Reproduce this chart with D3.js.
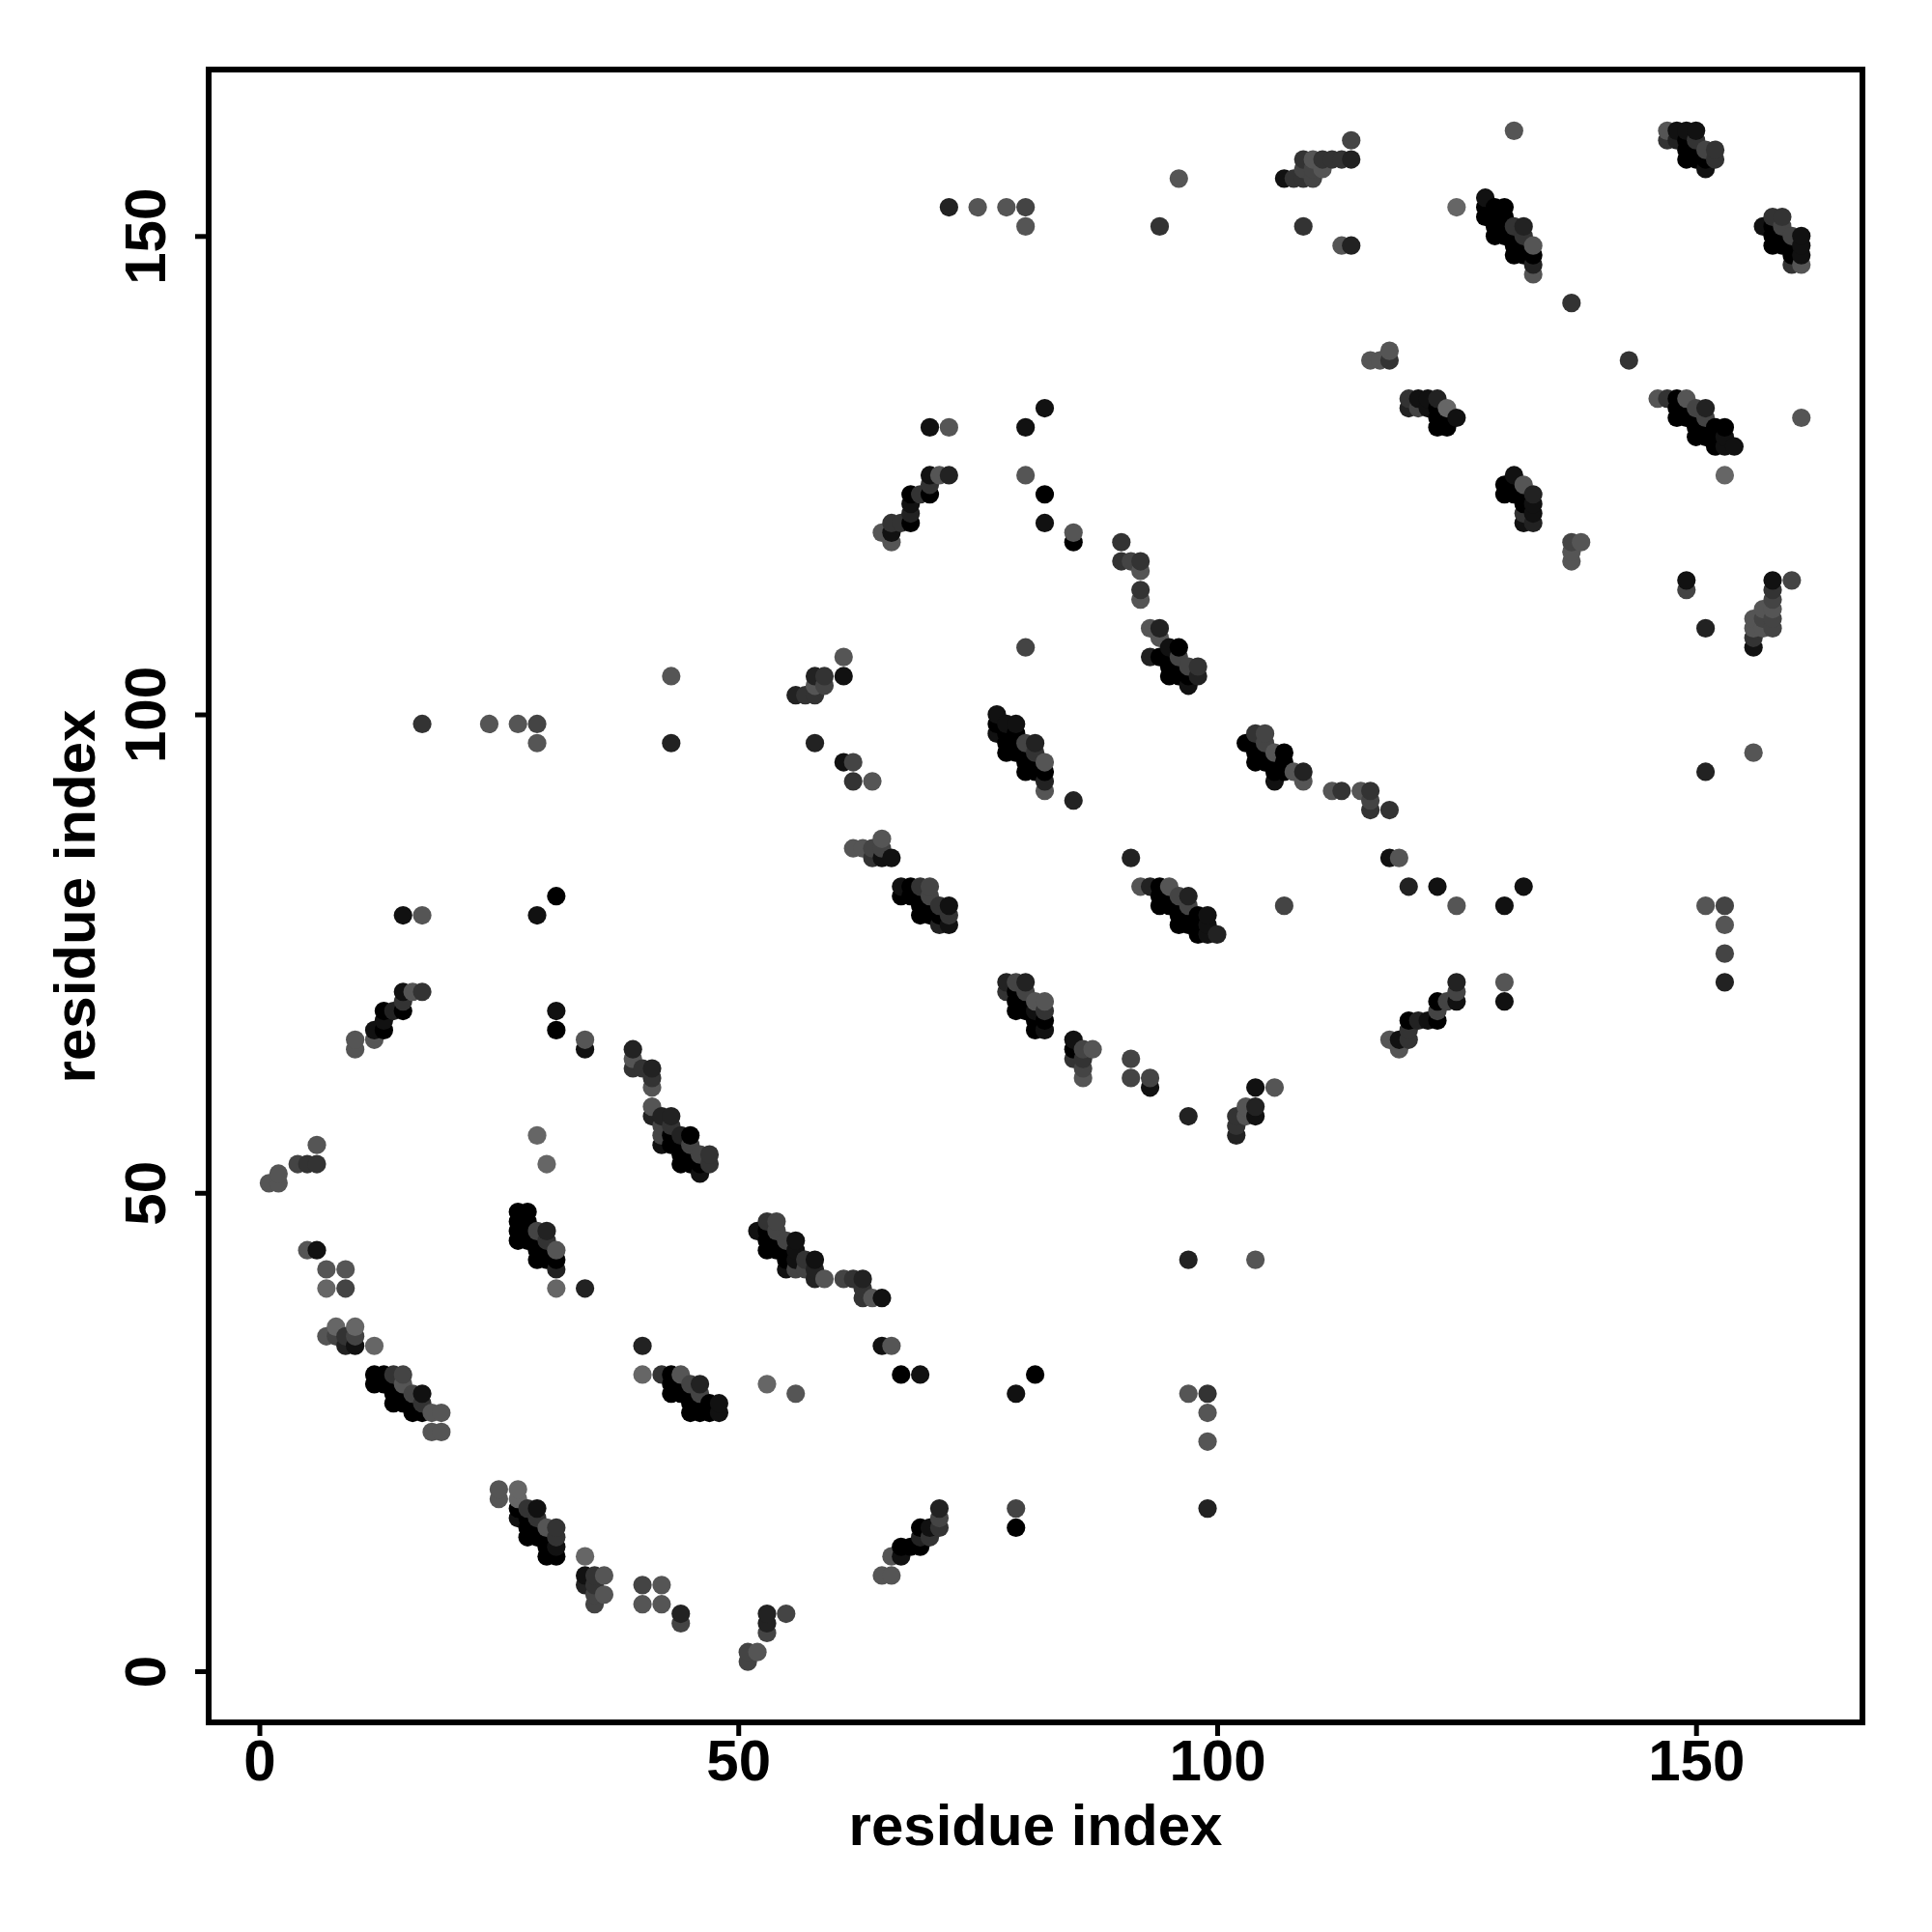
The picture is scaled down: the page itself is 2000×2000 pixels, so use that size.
<!DOCTYPE html>
<html><head><meta charset="utf-8">
<script src="https://cdn.jsdelivr.net/npm/d3@7"></script>
<style>html,body{margin:0;padding:0;background:#fff}svg{display:block}text{font-family:"Liberation Sans",Arial,sans-serif;font-weight:700;fill:#000}</style>
</head><body><svg id="c" width="2000" height="2000"></svg>
<script>
// each contact: [residue i, residue j, grey level 0 (black) .. 6 (#666)]
const lowLeft=[[1,51,5],[2,51,5],[2,52,5],[4,53,4],[5,53,3],[6,53,3],[6,55,5],[5,44,5],[6,44,1],[7,42,5],[9,42,5],[7,40,6],[9,40,4],
[7,35,5],[8,36,6],[8,35,4],[9,35,3],[10,36,6],[10,35,4],[9,34,2],[10,34,1],[12,34,6],
[12,31,0],[13,31,0],[14,31,3],[15,31,4],[12,30,0],[13,30,0],[14,30,0],[15,30,5],[14,29,0],[15,29,0],[16,29,4],[17,29,1],[14,28,0],[15,28,0],[16,28,0],[17,28,3],[16,27,0],[17,27,0],[18,27,5],[19,27,5],[18,25,5],[19,25,5]];
const block27=[[29,56,6],[30,53,6],[27,48,0],[28,48,0],[27,47,0],[28,47,0],[27,46,0],[28,46,0],[29,46,4],[30,46,2],[27,45,0],[28,45,0],[29,45,0],[30,45,3],[29,44,0],[30,44,0],[31,44,5],[29,43,0],[30,43,0],[31,43,0],[31,42,2],[31,40,6],[34,40,2]];
const bottom=[[25,19,5],[25,18,5],[27,19,6],[27,18,6],[27,17,0],[28,17,3],[29,17,1],[27,16,1],[28,16,0],[29,16,3],[28,15,0],[29,15,0],[30,15,5],[31,15,3],[28,14,0],[29,14,0],[30,14,0],[31,14,3],[30,13,0],[31,13,1],[30,12,0],[31,12,0],
[34,12,6],[34,10,1],[35,10,3],[36,10,5],[34,9,2],[35,9,3],[35,8,4],[36,8,5],[35,7,4],[40,9,4],[42,9,5],[40,7,5],[42,7,5],[44,6,2],[44,5,4],[53,6,2],[53,5,2],[53,4,4],[55,6,4],[51,2,4],[52,2,5],[51,1,4],
[65,10,5],[66,10,5],[66,12,5],[67,12,1],[67,13,0],[68,13,0],[69,13,0],[69,14,2],[69,15,0],[70,15,1],[71,15,3],[71,16,4],[71,17,2],[70,14,3]];
const block40=[[40,34,2],[40,31,6],[42,31,3],[43,31,0],[44,31,5],[43,30,0],[44,30,0],[45,30,4],[46,30,2],[43,29,0],[44,29,0],[45,29,0],[46,29,4],[45,28,0],[46,28,0],[47,28,0],[48,28,1],[45,27,0],[46,27,0],[47,27,0],[48,27,1],[53,30,6],[56,29,5]];
const block52=[[52,46,1],[53,47,3],[54,47,4],[53,46,0],[54,46,4],[53,45,0],[54,45,0],[55,45,4],[56,45,1],[53,44,0],[54,44,0],[55,44,0],[56,44,1],[55,43,0],[56,43,1],[57,43,3],[58,43,1],[55,42,1],[56,42,4],[57,42,4],[58,42,2],[58,41,2],[59,41,5],[61,41,4],[62,41,3],[63,41,2],[63,40,3],[63,39,3],[64,39,5],[65,39,1],[65,34,1],[66,34,5],[67,31,0],[69,31,1]];
const leftUp=[[15,79,1],[17,79,5],[29,79,1],[31,81,0],[15,71,1],[16,71,5],[17,71,3],[15,70,3],[13,69,0],[14,69,2],[15,69,0],[13,68,1],[12,67,1],[13,67,0],[10,66,5],[12,66,5],[10,65,5],[31,69,1],[31,67,0],[34,66,5],[34,65,1],
[17,99,3],[24,99,5],[27,99,5],[29,99,4],[29,97,5],[43,104,5],[43,97,2]];
const block39=[[39,65,2],[39,64,5],[39,63,3],[40,63,3],[41,63,2],[41,62,3],[41,61,5],[41,59,5],[41,58,2],[42,58,2],[43,58,2],[42,57,4],[43,57,3],[42,56,4],[43,56,0],[44,56,2],[45,56,0],[42,55,1],[43,55,0],[44,55,0],[45,55,4],[44,54,0],[45,54,0],[46,54,4],[47,54,3],[44,53,0],[45,53,0],[46,53,0],[47,53,3],[46,52,1]];
const block56=[[61,106,5],[61,104,1],[58,104,2],[59,104,3],[58,103,5],[59,103,4],[56,102,2],[57,102,3],[58,102,3],[58,97,2],[61,95,1],[62,95,4],[62,93,3],[64,93,5],[65,87,5],[62,86,5],[63,86,5],[64,86,4],[65,86,4],[64,85,3],[65,85,1],[66,85,1]];
const block67=[[67,82,1],[68,82,0],[69,82,3],[70,82,4],[67,81,0],[68,81,0],[69,81,0],[70,81,4],[69,80,0],[70,80,0],[71,80,3],[72,80,1],[69,79,0],[70,79,0],[71,79,0],[72,79,3],[71,78,2],[72,78,1]];
const block77=[[80,107,4],[77,100,1],[77,99,0],[78,99,1],[79,99,1],[77,98,1],[78,98,0],[79,98,0],[78,97,0],[79,97,0],[80,97,4],[81,97,2],[78,96,0],[79,96,0],[80,96,0],[81,96,3],[80,95,0],[81,95,0],[82,95,5],[80,94,0],[81,94,0],[82,94,0],[82,93,2],[82,92,5],[85,91,2]];
const arc65=[[70,130,1],[72,130,5],[80,130,1],[82,132,1],[70,125,1],[71,125,5],[72,125,2],[80,125,5],[82,123,0],[82,120,1],[85,119,5],[85,118,0],[65,119,5],[66,120,3],[67,120,3],[68,120,0],[68,121,2],[68,122,1],[68,123,0],[69,123,3],[70,123,0],[70,124,3],[66,119,1],[66,118,5],
[90,118,3],[90,116,3],[91,116,4],[92,116,3],[92,115,5],[92,113,3],[92,112,5]];
const block93=[[93,109,5],[94,109,2],[94,108,5],[95,107,1],[96,107,0],[93,106,2],[94,106,0],[95,106,0],[96,106,4],[95,105,0],[96,105,0],[97,105,4],[98,105,3],[95,104,0],[96,104,0],[97,104,0],[98,104,2],[97,103,1]];
const block92=[[91,85,2],[92,82,5],[93,82,2],[94,82,0],[95,82,5],[94,81,0],[95,81,0],[96,81,4],[97,81,2],[94,80,0],[95,80,0],[96,80,0],[97,80,4],[96,79,0],[97,79,0],[98,79,0],[99,79,1],[96,78,0],[97,78,0],[98,78,0],[99,78,1],[98,77,0],[99,77,1],[100,77,2],[107,80,4]];
const block78=[[78,72,2],[79,72,4],[80,72,2],[78,71,3],[79,71,0],[80,71,4],[79,70,0],[80,70,0],[81,70,5],[82,70,5],[79,69,0],[80,69,0],[81,69,1],[82,69,3],[81,68,0],[82,68,0],[81,67,0],[82,67,1],
[85,66,1],[85,65,0],[85,64,3],[86,65,4],[87,65,5],[86,64,3],[86,63,4],[86,62,5],[91,64,4],[91,62,4],[93,62,4],[93,61,1],[97,58,2],[102,58,3],[102,57,3],[102,56,2],[103,59,5],[103,58,5],[104,59,2],[104,58,1],[104,61,1],[106,61,5]];
const scattered=[[97,43,2],[104,43,5],[79,29,1],[81,31,0],[97,29,5],[99,29,3],[99,27,5],[99,24,5],[99,17,2],[79,17,4],[79,15,0],
[72,153,2],[75,153,5],[78,153,5],[80,153,4],[80,151,5],[94,151,3],[96,156,5],[109,151,3]];
const block103=[[103,97,0],[104,98,3],[105,98,4],[104,97,0],[105,97,4],[104,96,0],[105,96,0],[106,96,5],[107,96,0],[104,95,0],[105,95,0],[106,95,0],[107,95,0],[106,94,0],[107,94,0],[108,94,5],[109,94,2],[106,93,1],[109,93,5],
[112,92,5],[113,92,3],[115,92,5],[116,92,3],[116,91,4],[116,90,3],[118,90,3],[118,85,1],[119,85,5],[120,82,2],[123,82,1],[125,80,5],[130,80,1],[132,82,1]];
const block118=[[125,72,2],[130,72,5],[130,70,1],[125,71,4],[125,70,1],[124,70,4],[123,70,0],[123,69,4],[123,68,0],[122,68,1],[121,68,2],[120,68,0],[120,67,3],[120,66,3],[119,66,1],[118,66,5],[119,65,5]];
const block107=[[114,160,4],[109,158,3],[110,158,5],[111,158,3],[112,158,3],[113,158,3],[114,158,2],[109,157,4],[110,157,4],[111,157,5],[107,156,1],[108,156,3],[109,156,3],[110,156,4],[113,149,5],[114,149,2],[131,161,5],[125,153,6]];
const block128=[[128,154,1],[128,153,0],[129,153,0],[130,153,0],[128,152,0],[129,152,0],[130,152,0],[129,151,0],[130,151,0],[131,151,3],[132,151,2],[129,150,0],[130,150,0],[131,150,0],[132,150,3],[131,149,0],[132,149,0],[133,149,5],[131,148,0],[132,148,0],[133,148,0],[133,147,2],[133,146,5],[137,143,3],[116,137,5],[117,137,5],[118,137,3],[118,138,5],[143,137,3]];
const block120=[[120,133,3],[121,133,1],[122,133,1],[123,133,2],[120,132,2],[121,132,4],[122,132,1],[123,132,0],[124,132,6],[123,131,0],[124,131,0],[125,131,1],[123,130,0],[124,130,0]];
const block146=[[146,133,5],[147,133,3],[148,133,0],[149,133,5],[148,132,0],[149,132,0],[150,132,4],[151,132,2],[148,131,0],[149,131,0],[150,131,0],[151,131,4],[150,130,0],[151,130,0],[152,130,0],[153,130,0],[150,129,0],[151,129,0],[152,129,0],[153,129,1],[152,128,0],[153,128,1],[154,128,1],[161,131,5],[153,125,6]];
const block130=[[131,125,1],[130,124,0],[131,124,0],[132,124,5],[130,123,0],[131,123,0],[132,123,0],[133,123,2],[132,122,0],[133,122,1],[132,121,3],[133,121,1],[132,120,1],[133,120,2],[137,118,4],[138,118,5],[137,117,5],[137,116,5]];
const block149=[[149,114,1],[149,113,4],[158,114,1],[160,114,4],[158,113,3],[158,112,4],[158,111,5],[157,111,5],[156,110,5],[157,110,4],[158,110,4],[156,109,5],[157,109,5],[158,109,4],[156,108,3],[156,107,1],[151,109,2],[156,96,5],[151,94,2],[151,80,5],[153,80,4],[153,78,5],[153,75,4],[153,72,2]];
const block147=[[147,161,5],[148,161,1],[149,161,1],[150,161,1],[147,160,3],[148,160,2],[149,160,0],[150,160,3],[149,159,0],[150,159,0],[151,159,4],[152,159,3],[149,158,0],[150,158,0],[151,158,0],[152,158,3],[151,157,1]];
const block157=[[157,151,1],[158,152,3],[159,152,3],[158,151,0],[159,151,4],[158,150,0],[159,150,0],[160,150,4],[161,150,1],[158,149,0],[159,149,0],[160,149,0],[161,149,1],[160,148,0],[161,148,1],[160,147,3],[161,147,5]];
const xTickValues=[0,50,100,150];
const yTickValues=[0,50,100,150];
const axisTitle="residue index";

const contacts=[].concat(lowLeft,block27,bottom,block40,block52,leftUp,block39,block56,block67,block77,arc65,block93,block92,block78,scattered,block103,block118,block107,block128,block120,block146,block130,block149,block147,block157)
  .sort((a,b)=>a[0]-b[0]||a[1]-b[1]);

const box={l:216,r:1928,t:72,b:1783};
const x=d3.scaleLinear().domain([0,150]).range([268.5,1755.7]);
const y=d3.scaleLinear().domain([0,150]).range([1730,244.3]);
const grey=d3.scaleLinear().domain([0,6]).range(["#000000","#666666"]);
const svg=d3.select("#c");

svg.append("g").selectAll("circle").data(contacts).join("circle")
  .attr("cx",d=>x(d[0])).attr("cy",d=>y(d[1])).attr("r",9.6).attr("fill",d=>grey(d[2]));

svg.append("rect").attr("x",box.l).attr("y",box.t).attr("width",box.r-box.l).attr("height",box.b-box.t)
  .attr("fill","none").attr("stroke","#000").attr("stroke-width",6);

const gx=svg.append("g").attr("transform",`translate(0,${box.b})`)
  .call(d3.axisBottom(x).tickValues(xTickValues).tickSize(14).tickPadding(3).tickFormat(d3.format("d")));
const gy=svg.append("g").attr("transform",`translate(${box.l},0)`)
  .call(d3.axisLeft(y).tickValues(yTickValues).tickSize(14).tickFormat(d3.format("d")));
gx.select(".domain").remove(); gy.select(".domain").remove();
svg.selectAll(".tick line").attr("stroke","#000").attr("stroke-width",5);
gx.selectAll("text").attr("font-size",60).attr("font-family",'"Liberation Sans",Arial,sans-serif').attr("font-weight",700);
gy.selectAll("text").attr("font-size",60).attr("font-family",'"Liberation Sans",Arial,sans-serif').attr("font-weight",700)
  .attr("x",null).attr("dy",null).attr("text-anchor","middle")
  .attr("transform",d=>`translate(-45,0) rotate(-90)`);

svg.append("text").attr("x",1072).attr("y",1910).attr("text-anchor","middle").attr("font-size",60).text(axisTitle);
svg.append("text").attr("transform","translate(98,928) rotate(-90)").attr("text-anchor","middle").attr("font-size",60).text(axisTitle);
</script></body></html>
